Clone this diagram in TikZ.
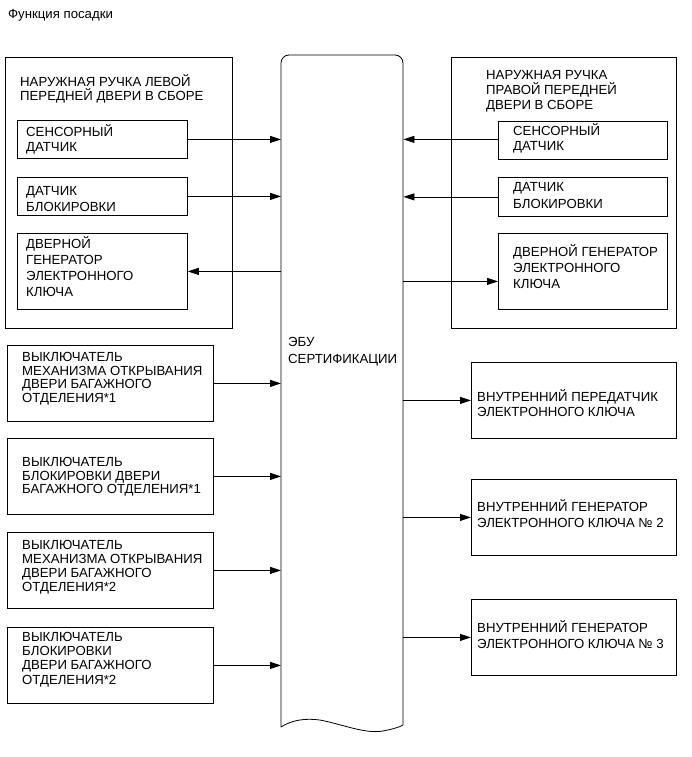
\documentclass[tikz,border=0pt]{standalone}
\usepackage{fontspec}
\setmainfont{Liberation Sans}
\usetikzlibrary{arrows.meta,calc}
\newcommand\fs[1]{\fontsize{13.2}{#1}\selectfont}
\tikzset{
  box/.style={draw, line width=0.8pt, inner sep=0pt, anchor=north west},
  txt/.style={anchor=base west, inner sep=0pt, align=left},
  arr/.style={line width=0.8pt, -{Triangle[length=11pt,width=7pt]}},
}
\begin{document}
\begin{tikzpicture}[x=1pt,y=-1pt]
\useasboundingbox (0,0) rectangle (691,757);
% title (positions below are the baselines of the last text line)
\node[txt, font=\fs{14}] (title) at (8,19) {Функция посадки};
% ECU bar
\node[inner sep=0pt, anchor=north west, minimum width=122pt, minimum height=672pt] (ecu) at (281,55) {};
\draw[line width=0.8pt, rounded corners=8pt] (281,727) -- (281,55) -- (403,55) -- (403,725);
\draw[line width=0.8pt] (281,727) .. controls (292,720) and (305,718) .. (320,720)
  .. controls (345,725) and (365,734) .. (383,731) .. controls (393,729) and (400,727) .. (403,725);
\node[txt, font=\fs{16.6}] (ecut) at (288,363.3) {ЭБУ\\СЕРТИФИКАЦИИ};
% left door handle
\node[box, minimum width=227pt, minimum height=271pt] (lo) at (5,57) {};
\node[txt, font=\fs{14}] (lot) at (20,101) {НАРУЖНАЯ РУЧКА ЛЕВОЙ\\ПЕРЕДНЕЙ ДВЕРИ В СБОРЕ};
\node[box, minimum width=170pt, minimum height=38pt] (l1) at (17,120) {};
\node[txt, font=\fs{15.7}] (l1t) at (26,151.7) {СЕНСОРНЫЙ\\ДАТЧИК};
\node[box, minimum width=170pt, minimum height=38pt] (l2) at (17,177) {};
\node[txt, font=\fs{16.5}] (l2t) at (26,211.5) {ДАТЧИК\\БЛОКИРОВКИ};
\node[box, minimum width=170pt, minimum height=76pt] (l3) at (17,233) {};
\node[txt, font=\fs{16.3}] (l3t) at (26,296.9) {ДВЕРНОЙ\\ГЕНЕРАТОР\\ЭЛЕКТРОННОГО\\КЛЮЧА};
% right door handle
\node[box, minimum width=225pt, minimum height=271pt] (ro) at (451,57) {};
\node[txt, font=\fs{15}] (rot) at (486,110) {НАРУЖНАЯ РУЧКА\\ПРАВОЙ ПЕРЕДНЕЙ\\ДВЕРИ В СБОРЕ};
\node[box, minimum width=169pt, minimum height=38pt] (r1) at (498,121) {};
\node[txt, font=\fs{15}] (r1t) at (513,150) {СЕНСОРНЫЙ\\ДАТЧИК};
\node[box, minimum width=169pt, minimum height=39pt] (r2) at (498,177) {};
\node[txt, font=\fs{16.3}] (r2t) at (513,208) {ДАТЧИК\\БЛОКИРОВКИ};
\node[box, minimum width=169pt, minimum height=76pt] (r3) at (498,233) {};
\node[txt, font=\fs{15.8}] (r3t) at (513,288.3) {ДВЕРНОЙ ГЕНЕРАТОР\\ЭЛЕКТРОННОГО\\КЛЮЧА};
% left lower switches
\node[box, minimum width=206pt, minimum height=76pt] (a) at (7,345) {};
\node[txt, font=\fs{13.6}] (at) at (22,402.5) {ВЫКЛЮЧАТЕЛЬ\\МЕХАНИЗМА ОТКРЫВАНИЯ\\ДВЕРИ БАГАЖНОГО\\ОТДЕЛЕНИЯ*1};
\node[box, minimum width=206pt, minimum height=76pt] (b) at (7,438) {};
\node[txt, font=\fs{13.3}] (bt) at (22,493.3) {ВЫКЛЮЧАТЕЛЬ\\БЛОКИРОВКИ ДВЕРИ\\БАГАЖНОГО ОТДЕЛЕНИЯ*1};
\node[box, minimum width=206pt, minimum height=76pt] (c) at (7,532) {};
\node[txt, font=\fs{14}] (ct) at (22,591.3) {ВЫКЛЮЧАТЕЛЬ\\МЕХАНИЗМА ОТКРЫВАНИЯ\\ДВЕРИ БАГАЖНОГО\\ОТДЕЛЕНИЯ*2};
\node[box, minimum width=206pt, minimum height=76pt] (d) at (7,627) {};
\node[txt, font=\fs{14.1}] (dt) at (22,684) {ВЫКЛЮЧАТЕЛЬ\\БЛОКИРОВКИ\\ДВЕРИ БАГАЖНОГО\\ОТДЕЛЕНИЯ*2};
% right lower outputs
\node[box, minimum width=205pt, minimum height=76pt] (e) at (471,362) {};
\node[txt, font=\fs{14.3}] (et) at (477,416) {ВНУТРЕННИЙ ПЕРЕДАТЧИК\\ЭЛЕКТРОННОГО КЛЮЧА};
\node[box, minimum width=205pt, minimum height=76pt] (f) at (471,479) {};
\node[txt, font=\fs{15.6}] (ft) at (477,527.3) {ВНУТРЕННИЙ ГЕНЕРАТОР\\ЭЛЕКТРОННОГО КЛЮЧА № 2};
\node[box, minimum width=205pt, minimum height=76pt] (g) at (471,599) {};
\node[txt, font=\fs{15.6}] (gt) at (477,648.3) {ВНУТРЕННИЙ ГЕНЕРАТОР\\ЭЛЕКТРОННОГО КЛЮЧА № 3};
% connectors
\draw[arr] (l1.east) -- (l1.east -| ecu.west);
\draw[arr] (l2.east) -- (l2.east -| ecu.west);
\draw[arr] (l3.east -| ecu.west) -- (l3.east);
\draw[arr] ([yshift=1pt]r1.west) -- ([yshift=1pt]r1.west -| ecu.east);
\draw[arr] (r2.west) -- (r2.west -| ecu.east);
\draw[arr] ([yshift=-10pt]r3.west -| ecu.east) -- ([yshift=-10pt]r3.west);
\draw[arr] (a.east) -- (a.east -| ecu.west);
\draw[arr] (b.east) -- (b.east -| ecu.west);
\draw[arr] (c.east) -- (c.east -| ecu.west);
\draw[arr] (d.east) -- (d.east -| ecu.west);
\draw[arr] (e.west -| ecu.east) -- (e.west);
\draw[arr] (f.west -| ecu.east) -- (f.west);
\draw[arr] (g.west -| ecu.east) -- (g.west);
\end{tikzpicture}
\end{document}
